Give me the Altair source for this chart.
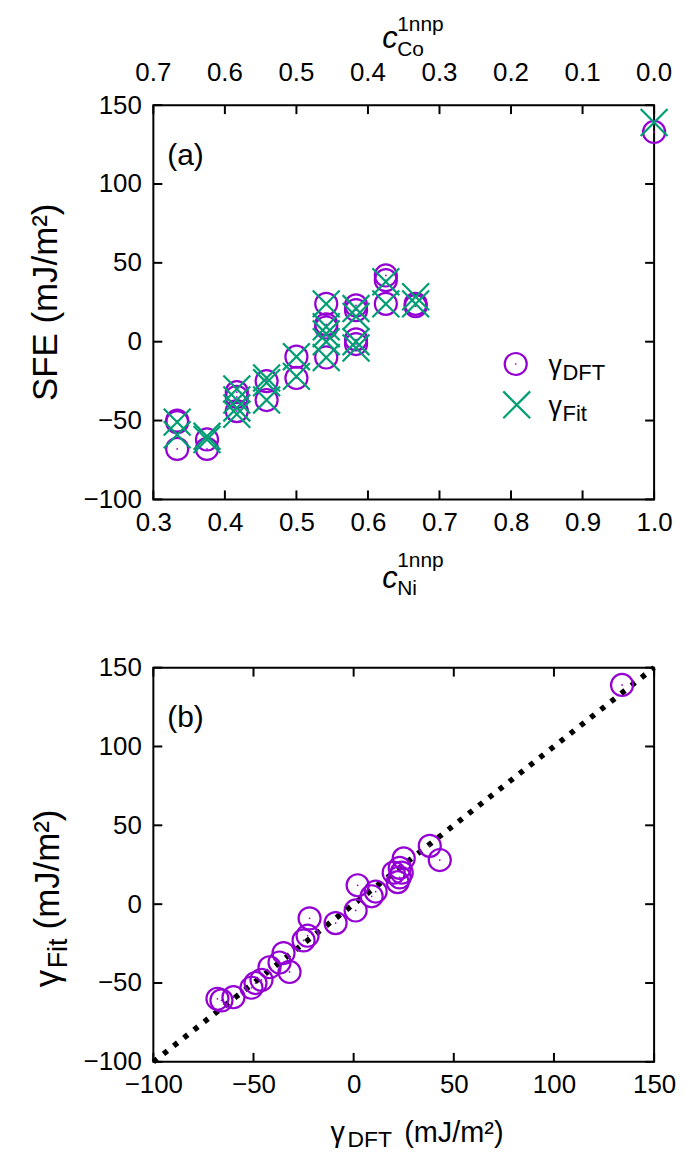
import altair as alt
import pandas as pd

# ---------------- data ----------------
# Panel (a): gamma_DFT (circles) vs c_Ni
dft_c = [1/3, 1/3, 1/3, 0.375, 0.375, 5/12, 5/12, 5/12, 11/24, 11/24, 0.5, 0.5,
         13/24, 13/24, 13/24, 13/24, 7/12, 7/12, 7/12, 7/12, 0.625, 0.625, 0.625,
         2/3, 2/3, 1.0]
dft_g = [-50, -51, -68, -62, -68, -32, -35, -44, -25, -37, -9.5, -23,
         24, 11, 9, -10, 23, 20, 1.5, -1.5, 42, 39, 24,
         24, 22.5, 133]
# Panel (a): gamma_Fit (crosses) vs c_Ni
fit_c = [1/3, 1/3, 0.375, 0.375, 5/12, 5/12, 5/12, 5/12, 11/24, 11/24, 11/24, 0.5, 0.5,
         13/24, 13/24, 13/24, 13/24, 13/24, 7/12, 7/12, 7/12, 7/12, 0.625, 0.625,
         2/3, 2/3, 1.0]
fit_g = [-51, -59, -60, -62, -30, -37, -42, -46, -23, -26, -37, -9.5, -22,
         24, 9.5, 5, 0, -10, 21, 16, 0, -4, 38, 24,
         28.5, 24, 139]
# Panel (b): gamma_Fit vs gamma_DFT
b_dft = [-68, -66, -60, -51, -49, -46, -42, -35, -32, -37, -25, -23, -22, -9, 1,
         2, 11, 9, 20, 22, 23, 23, 25, 24, 38, 43, 134]
b_fit = [-60, -61, -59, -53, -50, -48, -40, -31, -43, -37, -23, -20, -9, -12, -4,
         12, 8, 5, 20, 14, 17, 23, 29, 20, 37, 28, 139]
diag = [-100, 150]

xa_ticks = [0.3, 0.4, 0.5, 0.6, 0.7, 0.8, 0.9, 1.0]
co_ticks = [0.7, 0.6, 0.5, 0.4, 0.3, 0.2, 0.1, 0.0]
y_ticks = [-100, -50, 0, 50, 100, 150]
xb_ticks = [-100, -50, 0, 50, 100, 150]

# ---------------- style ----------------
W, H = 503, 396
PURPLE = "#9400D3"
GREEN = "#009E73"
FONT = "Liberation Sans"
FS = 26
TS = 27
YT = 35
TL = 9
XSHAPE = "M-1,-1L1,1M-1,1L1,-1"


def enc_x(domain, values, fmt):
    return alt.X("x:Q", scale=alt.Scale(domain=domain, nice=False, zero=False),
                 axis=alt.Axis(values=values, format=fmt, title=None, grid=False,
                               domain=False, ticks=False, labelPadding=10,
                               labelFontSize=FS, labelFont=FONT, labelColor="black",
                               labelFlush=False, labelOverlap=False))


def enc_y(domain, values):
    return alt.Y("y:Q", scale=alt.Scale(domain=domain, nice=False, zero=False),
                 axis=alt.Axis(values=values, title=None, grid=False, domain=False,
                               ticks=False, labelPadding=12, labelFontSize=FS,
                               labelFont=FONT, labelColor="black", labelFlush=False,
                               labelOverlap=False))


def tick_layers(xe, ye, xt, yt):
    dx = pd.DataFrame({"x": xt})
    dy = pd.DataFrame({"y": yt})
    base = dict(color="black", strokeWidth=2)
    return [
        alt.Chart(dy).mark_rule(**base).encode(y=ye, x=alt.value(0), x2=alt.value(TL)),
        alt.Chart(dy).mark_rule(**base).encode(y=ye, x=alt.value(W - TL), x2=alt.value(W)),
        alt.Chart(dx).mark_rule(**base).encode(x=xe, y=alt.value(H), y2=alt.value(H - TL)),
        alt.Chart(dx).mark_rule(**base).encode(x=xe, y=alt.value(0), y2=alt.value(TL)),
    ]


def txt(s, x, y, size=FS, angle=0, align="left", italic=False, baseline="alphabetic"):
    kw = dict(text=s, fontSize=size, font=FONT, color="black", align=align,
              baseline=baseline, angle=angle)
    if italic:
        kw["fontStyle"] = "italic"
    return alt.Chart(pd.DataFrame({"k": [0]})).mark_text(**kw).encode(
        x=alt.value(x), y=alt.value(y))


def anchor(x1, x2, y1, y2):
    # invisible frame that fixes the panel's outer bounds
    return alt.Chart(pd.DataFrame({"k": [0]})).mark_rule(opacity=0).encode(
        x=alt.value(x1), x2=alt.value(x2), y=alt.value(y1), y2=alt.value(y2))


# ---------------- panel (a) ----------------
xa = enc_x([0.3, 1.0], xa_ticks, ".1f")
ya = enc_y([-100, 150], y_ticks)
d_dft = pd.DataFrame({"x": dft_c, "y": dft_g})
d_fit = pd.DataFrame({"x": fit_c, "y": fit_g})
d_co = pd.DataFrame({"co": co_ticks})

circ_a = alt.Chart(d_dft).mark_point(shape="circle", filled=False, size=490,
                                     strokeWidth=2.2, color=PURPLE, opacity=1).encode(x=xa, y=ya)
dot_a = alt.Chart(d_dft).mark_circle(size=3, color=PURPLE, opacity=1).encode(x=xa, y=ya)
cross_a = alt.Chart(d_fit).mark_point(shape=XSHAPE, filled=False, size=729,
                                      strokeWidth=2.2, color=GREEN, opacity=1).encode(x=xa, y=ya)
top_lab = alt.Chart(d_co).transform_calculate(
    x="1 - datum.co", lab="format(datum.co, '.1f')"
).mark_text(fontSize=FS, font=FONT, color="black", baseline="alphabetic").encode(
    x=xa, y=alt.value(-24), text="lab:N")

leg_c = alt.Chart(pd.DataFrame({"k": [0]})).mark_point(
    shape="circle", filled=False, size=490, strokeWidth=2.2, color=PURPLE, opacity=1
).encode(x=alt.value(364), y=alt.value(260))
leg_d = alt.Chart(pd.DataFrame({"k": [0]})).mark_circle(size=3, color=PURPLE, opacity=1).encode(
    x=alt.value(364), y=alt.value(260))
leg_x = alt.Chart(pd.DataFrame({"k": [0]})).mark_point(
    shape=XSHAPE, filled=False, size=729, strokeWidth=2.2, color=GREEN, opacity=1
).encode(x=alt.value(365), y=alt.value(301))

panel_a = alt.layer(
    anchor(-145, W, -94, H + 105),
    circ_a, dot_a, cross_a, *tick_layers(xa, ya, xa_ticks, y_ticks), top_lab,
    leg_c, leg_d, leg_x,
    txt("γ", 397, 270, size=TS), txt("DFT", 411, 276, size=22),
    txt("γ", 397, 311, size=TS), txt("Fit", 411, 317, size=22),
    txt("(a)", 14, 60, size=30),
    # bottom title  c_Ni^1nnp
    txt("c", 230, H + 89, size=31, italic=True),
    txt("Ni", 245, H + 96, size=21), txt("1nnp", 245, H + 68, size=21),
    # top title c_Co^1nnp
    txt("c", 230, -57, size=31, italic=True),
    txt("Co", 245, -49, size=21), txt("1nnp", 245, -74, size=21),
    # y title
    txt("SFE (mJ/m²)", -108, H / 2, size=YT, angle=270, align="center",
        baseline="middle"),
).properties(width=W, height=H)

# ---------------- panel (b) ----------------
xb = enc_x([-100, 150], xb_ticks, "d")
yb = enc_y([-100, 150], y_ticks)
d_b = pd.DataFrame({"x": b_dft, "y": b_fit})
d_diag = pd.DataFrame({"x": diag, "y": diag})

line_b = alt.Chart(d_diag).mark_line(color="black", strokeWidth=5.5,
                                     strokeDash=[5, 8]).encode(x=xb, y=yb)
circ_b = alt.Chart(d_b).mark_point(shape="circle", filled=False, size=490,
                                   strokeWidth=2.2, color=PURPLE, opacity=1).encode(x=xb, y=yb)
dot_b = alt.Chart(d_b).mark_circle(size=3, color=PURPLE, opacity=1).encode(x=xb, y=yb)

panel_b = alt.layer(
    anchor(-145, W, -20, H + 98),
    line_b, circ_b, dot_b, *tick_layers(xb, yb, xb_ticks, y_ticks),
    txt("(b)", 14, 60, size=30),
    # x title  γ_DFT (mJ/m²)
    txt("γ", 178, H + 80, size=TS + 2),
    txt("DFT", 195, H + 86, size=23),
    txt("(mJ/m²)", 252, H + 80, size=TS + 2),
    # y title γ_Fit (mJ/m²)
    txt("γ", -95, 321, size=YT, angle=270),
    txt("Fit", -87, 302, size=27, angle=270),
    txt("(mJ/m²)", -95, 263, size=YT, angle=270),
).properties(width=W, height=H)

chart = alt.vconcat(panel_a, panel_b, spacing=42).properties(padding=0).configure(
    font=FONT, background="white"
).configure_view(stroke="black", strokeWidth=2)

chart.save("out.html", embed_options={"renderer": "svg", "actions": False})
